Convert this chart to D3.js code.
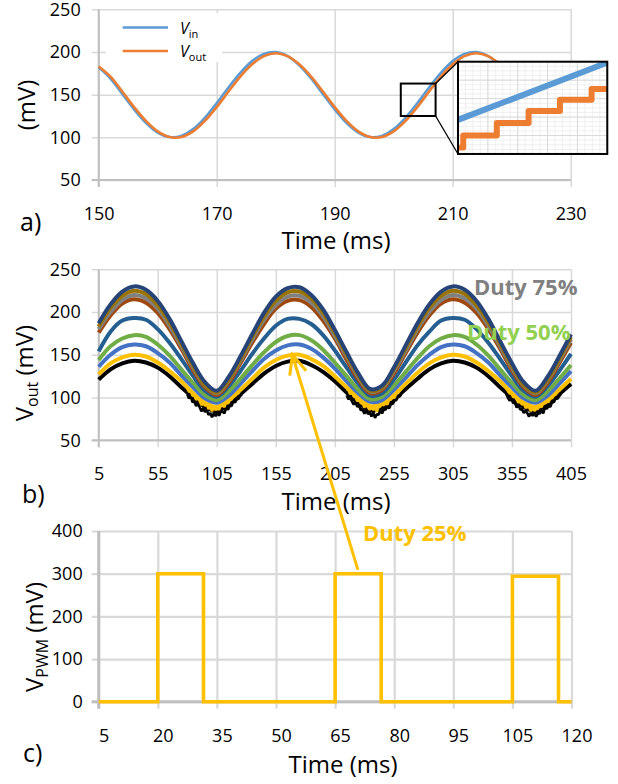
<!DOCTYPE html>
<html>
<head>
<meta charset="utf-8">
<script src="https://cdn.jsdelivr.net/npm/d3@7"></script>
<style>
  body { margin: 0; background: #fff; }
</style>
</head>
<body>
<svg id="chart" width="618" height="784"></svg>
<script>
/*
    Three stacked panels: a) Vin / Vout with zoom inset, b) Vout for several duty cycles, c) PWM signal
 */

// ---- panel a data ----
const timeA = [150, 152, 154, 156, 158, 160, 162, 164, 166, 168, 170, 172, 174, 176, 178, 180, 182, 184,
    186, 188, 190, 192, 194, 196, 198, 200, 202, 204, 206, 208, 210, 212, 214, 216, 218, 220];
const vin = [182, 168.9, 150.9, 132.8, 117.0, 105.6, 100.3, 101.7, 109.6, 122.9, 140.0, 158.3, 175.5, 189.3,
    197.8, 199.9, 195.2, 184.4, 168.9, 150.9, 132.8, 117.0, 105.6, 100.3, 101.7, 109.6, 122.9, 140.0, 158.3,
    175.5, 189.3, 197.8, 199.9, 195.2, 184.4, 168.9];
const vout = [183, 171.1, 153.6, 135.4, 119.2, 106.9, 100.3, 100.3, 106.9, 119.2, 135.4, 153.6, 171.1, 185.5,
    195.1, 198.5, 195.1, 185.5, 171.1, 153.6, 135.4, 119.2, 106.9, 100.3, 100.3, 106.9, 119.2, 135.4, 153.6,
    171.1, 185.5, 195.1, 198.5, 195.1, 185.5, 171.1];
const xTicksA = [150, 170, 190, 210, 230];
const yTicksA = [50, 100, 150, 200, 250];

// inset: zoomed view, own units 0..100
const insetRampX = [0, 100];
const insetRampY = [37, 99];
const insetStepX = [1.5, 3.5, 26, 47.3, 68.3, 89.5, 100];
const insetStepY = [7, 20, 33.7, 46.5, 58.8, 70.3, 70.3];

// ---- panel b data ----
const timeB = [5, 15, 25, 35, 45, 55, 65, 75, 85, 95, 105, 115, 125, 135, 145, 155, 165, 175, 185, 195, 205,
    215, 225, 235, 245, 255, 265, 275, 285, 295, 305, 315, 325, 335, 345, 355, 365, 375, 385, 395, 405];
const vNavy = [187, 209, 224, 230, 226, 213, 192, 166, 140, 118, 108, 124, 148, 174, 199, 218, 228, 229, 220, 203, 179,
    153, 128, 110, 114, 135, 161, 187, 209, 224, 230, 226, 213, 192, 166, 140, 118, 108, 124, 148, 174];
const vGold = [183, 205, 219, 225, 221, 208, 188, 163, 137, 115, 106, 121, 145, 171, 195, 213, 223, 224, 216, 199, 176,
    150, 126, 108, 112, 133, 158, 183, 205, 219, 225, 221, 208, 188, 163, 137, 115, 106, 121, 145, 171];
const vGray75 = [180, 200, 214, 220, 216, 204, 184, 160, 135, 114, 105, 120, 143, 168, 191, 208, 218, 219, 211, 195, 172,
    148, 124, 107, 111, 131, 155, 180, 200, 214, 220, 216, 204, 184, 160, 135, 114, 105, 120, 143, 168];
const vBrown = [176, 196, 210, 215, 211, 199, 180, 157, 132, 112, 103, 117, 140, 164, 186, 204, 213, 214, 206, 190, 169,
    144, 121, 105, 109, 128, 152, 176, 196, 210, 215, 211, 199, 180, 157, 132, 112, 103, 117, 140, 164];
const vTeal = [154, 177, 190, 193, 191, 180, 164, 145, 125, 108, 101, 113, 131, 151, 169, 184, 192, 192, 186, 173, 155,
    135, 116, 102, 105, 121, 141, 161, 177, 190, 193, 191, 180, 164, 145, 125, 108, 101, 113, 131, 151];
const vGreen50 = [144, 160, 169, 173, 171, 162, 149, 133, 117, 103, 97, 107, 122, 138, 153, 165, 172, 173, 167, 156, 141,
    125, 109, 98, 101, 114, 130, 146, 160, 169, 173, 171, 162, 149, 133, 117, 103, 97, 107, 122, 138];
const vBlue = [136, 150, 159, 162, 160, 152, 141, 126, 112, 99, 94, 102, 116, 131, 145, 155, 161, 162, 157, 147, 134,
    119, 105, 95, 97, 109, 123, 138, 150, 159, 162, 160, 152, 141, 126, 112, 99, 94, 102, 116, 131];
const vYellow25 = [127, 140, 147, 150, 148, 141, 131, 119, 105, 94, 89, 97, 109, 122, 135, 144, 149, 150, 145, 137, 125,
    112, 100, 90, 93, 103, 116, 129, 140, 147, 150, 148, 141, 131, 119, 105, 94, 89, 97, 109, 122];
const vBlack = [121, 133, 140, 143, 141, 135, 125, 112, 100, 89, 84, 92, 104, 116, 128, 137, 142, 143, 138, 130, 119,
    106, 94, 85, 88, 98, 110, 122, 133, 140, 143, 141, 135, 125, 112, 100, 89, 84, 92, 104, 116];

// noisy troughs of the lowest two traces
const noiseT1 = [80, 81.5, 83, 84.5, 86, 87.5, 89, 90.5, 92, 93.5, 95, 96.5, 98, 99.5, 101, 102.5, 104, 105.5,
    107, 108.5, 110, 111.5, 113, 114.5, 116, 117.5, 119, 120.5, 122, 123.5, 125, 126.5];
const noiseT2 = [215, 216.5, 218, 219.5, 221, 222.5, 224, 225.5, 227, 228.5, 230, 231.5, 233, 234.5, 236, 237.5, 239,
    240.5, 242, 243.5, 245, 246.5, 248, 249.5, 251, 252.5, 254, 255.5, 257, 258.5, 260, 261.5];
const noiseT3 = [350, 351.5, 353, 354.5, 356, 357.5, 359, 360.5, 362, 363.5, 365, 366.5, 368, 369.5, 371, 372.5, 374,
    375.5, 377, 378.5, 380, 381.5, 383, 384.5, 386, 387.5, 389, 390.5, 392, 393.5, 395, 396.5];
const blackNoise1 = [103.8, 99, 101.3, 94.5, 95.8, 90, 93.2, 88.7, 84, 87.5, 83.1, 85.8, 79.7, 81.8, 77, 81.6, 78.3,
    82.5, 78.8, 84.2, 83.4, 81.6, 88.8, 85.7, 90.4, 90.2, 95.7, 94.5, 98, 98.7, 102.5, 103.2];
const blackNoise2 = [102.8, 98, 100.3, 95.5, 91.8, 95, 89.2, 90.7, 85, 86.5, 81.1, 85.8, 80.7, 82.8, 78, 82.6, 76.3,
    80.5, 79.8, 85.2, 81.4, 86.6, 85.8, 89.7, 87.4, 92.2, 92.7, 96.5, 97, 100.7, 101.5, 104.2];
const blackNoise3 = [104.8, 100, 96.3, 98.5, 93.8, 94, 88.2, 91.7, 86, 86.5, 82.1, 84.8, 81.7, 77.8, 82, 78.6, 82.3,
    77.5, 81.8, 81.2, 85.4, 81.6, 88.8, 86.7, 90.4, 89.2, 94.7, 94.5, 99, 98.7, 101.5, 104.2];
const yellowNoise1 = [110.6, 106.7, 107.9, 102.1, 102.3, 97.4, 99.6, 96.1, 91.2, 93.7, 90.3, 92, 86.7, 88.8, 84.1,
    88.6, 85.3, 87.5, 85.8, 91.4, 90.6, 88.8, 95, 92.9, 96.8, 97.6, 102.1, 101.9, 104.5, 105.3, 109.1, 110];
const yellowNoise2 = [109.6, 108.7, 103.9, 106.1, 101.3, 100.4, 95.6, 98.1, 93.2, 93.7, 88.3, 92, 88.7, 85.8, 88.1,
    85.6, 88.3, 83.5, 88.8, 89.4, 92.6, 90.8, 94, 91.9, 97.8, 97.6, 100.1, 99.9, 104.5, 105.3, 108.1, 111];
const yellowNoise3 = [111.6, 107.7, 104.9, 105.1, 100.3, 101.4, 97.6, 94.1, 95.2, 91.7, 93.3, 88, 88.7, 88.8, 84.1,
    88.6, 84.3, 86.5, 86.8, 90.4, 88.6, 93.8, 93, 94.9, 94.8, 99.6, 99.1, 102.9, 103.5, 107.3, 108.1, 111];

const xTicksB = [5, 55, 105, 155, 205, 255, 305, 355, 405];
const yTicksB = [50, 100, 150, 200, 250];

// ---- panel c data ----
const timeC = [5, 20, 20, 31.6, 31.6, 65, 65, 76.7, 76.7, 105, 105, 116.7, 116.7, 120];
const pwm = [0, 0, 300, 300, 0, 0, 300, 300, 0, 0, 294, 294, 0, 0];
const xTicksC = [5, 20, 35, 50, 65, 80, 95, 105, 120];
const yTicksC = [0, 100, 200, 300, 400];

// annotation arrow: tip in panel b units, tail in panel c units
const arrowTip = [169, 150];
const arrowTail = [70.8, 309];

const FONT = '"Open Sans", sans-serif';
const GRID = "#d9d9d9";
const AXIS = "#bfbfbf";

const svg = d3.select("#chart");
svg.attr("font-family", FONT);

const xA = d3.scaleLinear().domain([150, 230]).range([98.7, 570.7]);
const yA = d3.scaleLinear().domain([50, 250]).range([180, 9.3]);
const xB = d3.scaleLinear().domain([5, 405]).range([98.7, 571]);
const yB = d3.scaleLinear().domain([50, 250]).range([440.3, 269.3]);
// category-like axis: labels evenly spaced although the steps are not
const xC = d3.scaleLinear().domain(xTicksC)
    .range(xTicksC.map((d, i) => 98.7 + i * (571.5 - 98.7) / (xTicksC.length - 1)));
const yC = d3.scaleLinear().domain([0, 400]).range([701.7, 531]);

function drawAxes(g, x, y, xTicks, yTicks, o) {
    let [x0, x1] = d3.extent(x.range());
    let [y1, y0] = d3.extent(y.range()); // y0 = bottom

    let gy = g.append("g")
        .attr("transform", `translate(${x0 - 7},0)`)
        .call(d3.axisLeft(y).tickValues(yTicks).tickSizeInner(-(x1 - x0 + 7)).tickSizeOuter(0).tickPadding(o.yPad));
    gy.select(".domain").remove();
    gy.attr("font-family", FONT).attr("font-size", 18);
    gy.selectAll(".tick line").attr("stroke", GRID).attr("stroke-width", o.gw);
    gy.selectAll(".tick text").attr("fill", "#000");

    let gx = g.append("g")
        .attr("transform", `translate(0,${y0 + 7})`)
        .call(d3.axisBottom(x).tickValues(xTicks).tickSizeInner(-(y0 - y1 + 7)).tickSizeOuter(0));
    gx.select(".domain").remove();
    gx.attr("font-family", FONT).attr("font-size", 18);
    gx.selectAll(".tick line").attr("stroke", GRID).attr("stroke-width", o.gw);
    gx.selectAll(".tick text").attr("fill", "#000").attr("y", 33).attr("dy", 0).attr("dx", o.xDx || 0);

    // axis lines
    g.append("line").attr("x1", x0).attr("x2", x0).attr("y1", y1).attr("y2", y0 + 7)
        .attr("stroke", AXIS).attr("stroke-width", o.aw);
    g.append("line").attr("x1", x0 - 7).attr("x2", x1).attr("y1", y0).attr("y2", y0)
        .attr("stroke", AXIS).attr("stroke-width", o.aw);
}

function addText(str, x, y, size, opts = {}) {
    let t = svg.append("text").attr("x", x).attr("y", y).attr("font-size", size)
        .attr("fill", opts.fill || "#000").text(str);
    if (opts.anchor) t.attr("text-anchor", opts.anchor);
    if (opts.weight) t.attr("font-weight", opts.weight);
    return t;
}

// rotated y title with optional subscript
function yTitle(x, y, main, sub, rest) {
    let t = svg.append("text").attr("transform", `translate(${x},${y}) rotate(-90)`)
        .attr("text-anchor", "middle").attr("font-size", 24).attr("fill", "#000");
    t.append("tspan").text(main);
    if (sub) {
        t.append("tspan").attr("font-size", 16).attr("dy", 5).text(sub);
        t.append("tspan").attr("dy", -5).text(rest);
    }
}

// ================= panel a =================
const gA = svg.append("g");
drawAxes(gA, xA, yA, xTicksA, yTicksA, {gw: 1.5, aw: 2, yPad: 11});

// legend box hides the gridlines behind it
gA.append("rect").attr("x", 106).attr("y", 13).attr("width", 116).attr("height", 49).attr("fill", "#fff");

let lineA = d3.line().x((d, i) => xA(timeA[i])).y(d => yA(d)).curve(d3.curveCatmullRom);
gA.append("path").attr("d", lineA(vin)).attr("fill", "none").attr("stroke", "#5B9BD5").attr("stroke-width", 2.6);
gA.append("path").attr("d", lineA(vout)).attr("fill", "none").attr("stroke", "#ED7D31").attr("stroke-width", 2.6);

const legendItems = [{sub: "in", color: "#5B9BD5", y: 27.5}, {sub: "out", color: "#ED7D31", y: 51}];
legendItems.forEach(item => {
    gA.append("line").attr("x1", 122.7).attr("x2", 168).attr("y1", item.y).attr("y2", item.y)
        .attr("stroke", item.color).attr("stroke-width", 2.6);
    let t = gA.append("text").attr("x", 180).attr("y", item.y + 6).attr("font-size", 16).attr("fill", "#000");
    t.append("tspan").attr("font-style", "italic").text("V");
    t.append("tspan").attr("font-size", 11).attr("dy", 4).text(item.sub);
});

// zoom box and inset
const zoomBox = {t0: 201.2, t1: 207.1, v0: 125, v1: 163};
const insetBox = {t0: 210.9, t1: 236.2, v0: 80.5, v1: 188.6};
let zb = {x0: xA(zoomBox.t0), x1: xA(zoomBox.t1), y0: yA(zoomBox.v1), y1: yA(zoomBox.v0)};
let ib = {x0: xA(insetBox.t0), x1: xA(insetBox.t1), y0: yA(insetBox.v1), y1: yA(insetBox.v0)};

gA.append("rect").attr("x", zb.x0).attr("y", zb.y0).attr("width", zb.x1 - zb.x0).attr("height", zb.y1 - zb.y0)
    .attr("fill", "none").attr("stroke", "#000").attr("stroke-width", 2);
gA.append("line").attr("x1", zb.x1).attr("y1", zb.y0).attr("x2", ib.x0).attr("y2", ib.y0)
    .attr("stroke", "#000").attr("stroke-width", 1.3);
gA.append("line").attr("x1", zb.x1).attr("y1", zb.y1).attr("x2", ib.x0).attr("y2", ib.y1)
    .attr("stroke", "#000").attr("stroke-width", 1.3);

svg.append("clipPath").attr("id", "insetClip").append("rect")
    .attr("x", ib.x0).attr("y", ib.y0).attr("width", ib.x1 - ib.x0).attr("height", ib.y1 - ib.y0);

let ix = d3.scaleLinear().domain([0, 100]).range([ib.x0, ib.x1]);
let iy = d3.scaleLinear().domain([0, 100]).range([ib.y1, ib.y0]);
let gI = gA.append("g").attr("clip-path", "url(#insetClip)");
gI.append("rect").attr("x", ib.x0).attr("y", ib.y0).attr("width", ib.x1 - ib.x0).attr("height", ib.y1 - ib.y0)
    .attr("fill", "#fff");
gI.selectAll(".minor-v").data(ix.ticks(20)).enter().append("line")
    .attr("x1", d => ix(d)).attr("x2", d => ix(d)).attr("y1", ib.y0).attr("y2", ib.y1)
    .attr("stroke", "#ececec").attr("stroke-width", 0.8);
gI.selectAll(".minor-h").data(iy.ticks(20)).enter().append("line")
    .attr("y1", d => iy(d)).attr("y2", d => iy(d)).attr("x1", ib.x0).attr("x2", ib.x1)
    .attr("stroke", "#ececec").attr("stroke-width", 0.8);
gI.selectAll(".major-v").data(ix.ticks(5)).enter().append("line")
    .attr("x1", d => ix(d)).attr("x2", d => ix(d)).attr("y1", ib.y0).attr("y2", ib.y1)
    .attr("stroke", "#dadada").attr("stroke-width", 1);
gI.selectAll(".major-h").data(iy.ticks(4)).enter().append("line")
    .attr("y1", d => iy(d)).attr("y2", d => iy(d)).attr("x1", ib.x0).attr("x2", ib.x1)
    .attr("stroke", "#dadada").attr("stroke-width", 1);

gI.append("path")
    .attr("d", d3.line().x((d, i) => ix(insetRampX[i])).y(d => iy(d))(insetRampY))
    .attr("fill", "none").attr("stroke", "#5B9BD5").attr("stroke-width", 6);
gI.append("path")
    .attr("d", d3.line().x((d, i) => ix(insetStepX[i])).y(d => iy(d)).curve(d3.curveStepAfter)(insetStepY))
    .attr("fill", "none").attr("stroke", "#ED7D31").attr("stroke-width", 6)
    .attr("stroke-linejoin", "round").attr("stroke-linecap", "round");
gA.append("rect").attr("x", ib.x0).attr("y", ib.y0).attr("width", ib.x1 - ib.x0).attr("height", ib.y1 - ib.y0)
    .attr("fill", "none").attr("stroke", "#000").attr("stroke-width", 2);

yTitle(35, 105, "(mV)");
addText("a)", 20, 231, 25);
addText("Time (ms)", 336, 249, 24, {anchor: "middle"});

// ================= panel b =================
const gB = svg.append("g");
drawAxes(gB, xB, yB, xTicksB, yTicksB, {gw: 1.5, aw: 2, yPad: 11});

const seriesB = [
    {values: vBlack, color: "#000000", noise: [blackNoise1, blackNoise2, blackNoise3]},
    {values: vYellow25, color: "#FFC000", noise: [yellowNoise1, yellowNoise2, yellowNoise3]},
    {values: vBlue, color: "#4472C4"},
    {values: vGreen50, color: "#70AD47"},
    {values: vTeal, color: "#255E91"},
    {values: vBrown, color: "#9E480E"},
    {values: vGray75, color: "#808080"},
    {values: vGold, color: "#997300"},
    {values: vNavy, color: "#264478"}
];
const noiseTimes = [noiseT1, noiseT2, noiseT3];

let lineB = d3.line().x((d, i) => xB(timeB[i])).y(d => yB(d)).curve(d3.curveCatmullRom);
seriesB.forEach(s => {
    gB.append("path").attr("d", lineB(s.values)).attr("fill", "none")
        .attr("stroke", s.color).attr("stroke-width", 4);
    if (s.noise) {
        s.noise.forEach((vals, k) => {
            let ln = d3.line().x((d, i) => xB(noiseTimes[k][i])).y(d => yB(d));
            gB.append("path").attr("d", ln(vals)).attr("fill", "none")
                .attr("stroke", s.color).attr("stroke-width", 2.6).attr("stroke-linejoin", "bevel");
        });
    }
});

addText("Duty 75%", 474, 295, 22, {fill: "#808080", weight: "bold"});
addText("Duty 50%", 467, 340, 22, {fill: "#92D050", weight: "bold"});

yTitle(33, 373, "V", "out", " (mV)");
addText("b)", 22, 503, 25);
addText("Time (ms)", 336, 510, 24, {anchor: "middle"});

// ================= panel c =================
const gC = svg.append("g");
drawAxes(gC, xC, yC, xTicksC, yTicksC, {gw: 2.2, aw: 3, yPad: 9, xDx: 5});

let lineC = d3.line().x((d, i) => xC(timeC[i])).y(d => yC(d));
gC.append("path").attr("d", lineC(pwm)).attr("fill", "none")
    .attr("stroke", "#FFC000").attr("stroke-width", 3.6).attr("stroke-linejoin", "miter");

addText("Duty 25%", 363, 541, 22, {fill: "#FFC000", weight: "bold"});
yTitle(43, 637, "V", "PWM", " (mV)");
addText("c)", 23, 762, 25);
addText("Time (ms)", 343, 773, 24, {anchor: "middle"});

// ---- arrow from panel c pulse up to the Duty 25% trace ----
let tip = [xB(arrowTip[0]), yB(arrowTip[1])];
let tail = [xC(arrowTail[0]), yC(arrowTail[1])];
let ang = Math.atan2(tail[1] - tip[1], tail[0] - tip[0]);
let arms = [-0.42, 0.42].map(da => [tip[0] + 21 * Math.cos(ang + da), tip[1] + 21 * Math.sin(ang + da)]);
svg.append("path")
    .attr("d", `M${arms[0]}L${tip}L${arms[1]}M${tip}L${tail}`)
    .attr("fill", "none").attr("stroke", "#FFC000").attr("stroke-width", 3);
</script>
</body>
</html>
